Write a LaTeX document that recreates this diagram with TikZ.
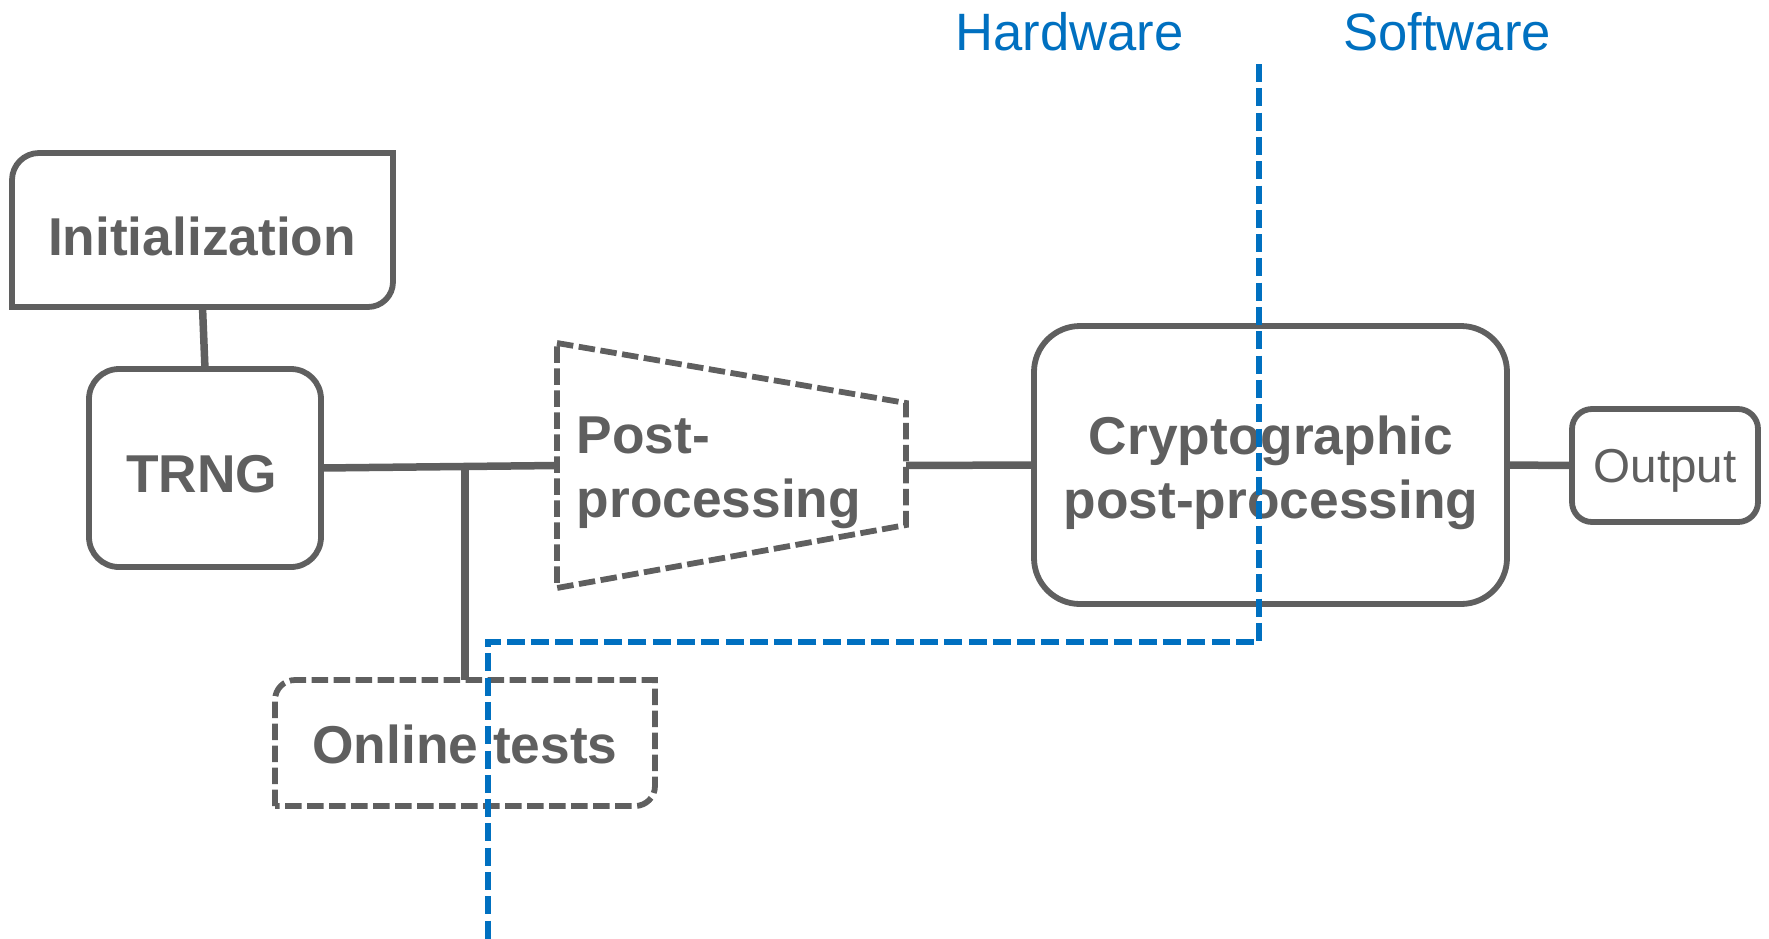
\documentclass[tikz,border=0pt]{standalone}
\usepackage{fontspec}
\setmainfont{Liberation Sans}
\usetikzlibrary{calc}
\definecolor{graytone}{RGB}{95,95,95}
\definecolor{hwblue}{RGB}{0,112,192}
\tikzset{
  boxshape/.style={rectangle, inner sep=0pt, outer sep=0pt},
  solidframe/.style={draw=graytone, line width=5.8pt},
  dashframe/.style={draw=graytone, line width=5.8pt, dash pattern=on 16.5pt off 5.5pt},
  link/.style={draw=graytone, line width=7.5pt},
  divider/.style={draw=hwblue, line width=6pt, dash pattern=on 18pt off 6.3pt},
  boldtext/.style={inner sep=0pt, anchor=base, text=graytone,
    font=\bfseries\fontsize{53.3}{64}\selectfont},
  outtext/.style={inner sep=0pt, anchor=base, text=graytone,
    font=\fontsize{47.6}{57}\selectfont},
  bluetext/.style={inner sep=0pt, anchor=base, text=hwblue,
    font=\fontsize{52.6}{63}\selectfont}
}
\begin{document}
\begin{tikzpicture}[x=1pt,y=-1pt]
\useasboundingbox (0,0) rectangle (1769,938);

% blocks
\node[boxshape, minimum width=381pt, minimum height=154pt] (init) at (202.5,230) {};
\node[boxshape, solidframe, rounded corners=30pt, minimum width=232pt, minimum height=198pt] (trng) at (205,468) {};
\node[boxshape, minimum width=349pt, minimum height=245pt] (post) at (731.5,465.5) {};
\node[boxshape, solidframe, rounded corners=46pt, minimum width=473pt, minimum height=278pt] (crypto) at (1270.5,465) {};
\node[boxshape, solidframe, rounded corners=20pt, minimum width=186pt, minimum height=113pt] (out) at (1665,465.5) {};
\node[boxshape, minimum width=380pt, minimum height=126pt] (online) at (465,743) {};

% initialization frame: rounded top-left and bottom-right corners
\draw[solidframe] (init.south west) -- ($(init.north west)+(0,27)$)
  .. controls ($(init.north west)+(0,12.1)$) and ($(init.north west)+(12.1,0)$) .. ($(init.north west)+(27,0)$)
  -- (init.north east) -- ($(init.south east)+(0,-25)$)
  .. controls ($(init.south east)+(0,-11.2)$) and ($(init.south east)+(-11.2,0)$) .. ($(init.south east)+(-25,0)$)
  -- cycle;

% online tests frame: dashed, rounded top-left and bottom-right corners
\draw[dashframe] (online.south west) -- ($(online.north west)+(0,20)$)
  .. controls ($(online.north west)+(0,9)$) and ($(online.north west)+(9,0)$) .. ($(online.north west)+(20,0)$)
  -- (online.north east) -- ($(online.south east)+(0,-20)$)
  .. controls ($(online.south east)+(0,-9)$) and ($(online.south east)+(-9,0)$) .. ($(online.south east)+(-20,0)$)
  -- cycle;

% post-processing: dashed trapezoid narrowing to the right
\draw[dashframe] (post.north west) -- ($(post.north east)+(0,60)$)
  -- ($(post.south east)+(0,-63)$) -- (post.south west) -- cycle;

% connectors
\draw[link] (init.south) -- (trng.north);
\draw[link] (trng.east) -- (post.west);
\draw[link] (online.north) -- (online.north |- trng.east);
\draw[link] (post.east) -- (crypto.west);
\draw[link] (crypto.east) -- (out.west);

% labels
\node[boldtext] (initlabel) at (202,255) {Initialization};
\node[boldtext] (trnglabel) at (201.5,492) {TRNG};
\node[boldtext, anchor=base west] (postlabela) at (576.5,453) {Post-};
\node[boldtext, anchor=base west] (postlabelb) at (576.5,517) {processing};
\node[boldtext] (cryptolabela) at (1271,454) {Cryptographic};
\node[boldtext] (cryptolabelb) at (1271,518) {post-processing};
\node[boldtext] (onlinelabel) at (465,763) {Online tests};
\node[outtext] (outlabel) at (1665,482) {Output};
\node[bluetext] (hwlabel) at (1069.5,50) {Hardware};
\node[bluetext] (swlabel) at (1447,50) {Software};

% hardware / software boundary
\coordinate (divtop) at (1259,64);
\coordinate (divknee) at (1259,642);
\coordinate (divelbow) at (487.5,642);
\coordinate (divfoot) at (487.5,945);
\draw[divider] (divtop) -- (divknee) -- (divelbow) -- (divfoot);
\end{tikzpicture}
\end{document}
